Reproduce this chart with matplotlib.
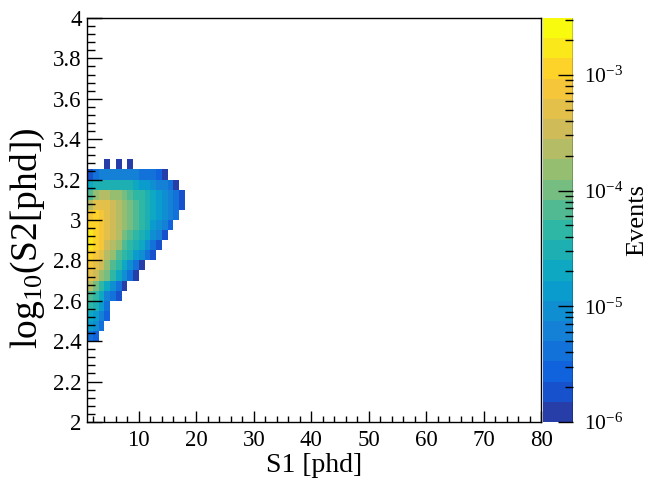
import numpy as np
import matplotlib.pyplot as plt
from matplotlib.colors import LinearSegmentedColormap, ListedColormap, LogNorm
from matplotlib.ticker import MultipleLocator, FuncFormatter, LogLocator

plt.rcParams['font.family'] = ['Liberation Serif', 'DejaVu Serif']
plt.rcParams['mathtext.fontset'] = 'custom'
plt.rcParams['mathtext.rm'] = 'Liberation Serif'
plt.rcParams['mathtext.it'] = 'Liberation Serif:italic'
plt.rcParams['mathtext.bf'] = 'Liberation Serif:bold'

# binning: S1 in 1 phd bins, log10(S2) in 0.05 bins
s1_edges = np.arange(1, 81, 1)
logs2_edges = np.round(np.arange(2.0, 4.0001, 0.05), 2)

# lower log10(S2) edge of each filled row, top row first
row_low = [3.25, 3.20, 3.15, 3.10, 3.05, 3.00, 2.95, 2.90, 2.85,
           2.80, 2.75, 2.70, 2.65, 2.60, 2.55, 2.50, 2.45, 2.40]

# events in each S1 bin of a row, starting from S1 = 1 phd
row_events = [
    [0, 0, 0, 1.2e-6, 0, 1.3e-6, 0, 1.2e-6],
    [1.8e-6, 4.2e-6, 5.8e-6, 6.2e-6, 6.4e-6, 6.3e-6, 6.1e-6, 5.9e-6, 5.4e-6,
     4.3e-6, 4.0e-6, 3.6e-6, 2.7e-6, 1.2e-6],
    [2.1e-5, 3.0e-5, 3.2e-5, 3.1e-5, 3.0e-5, 2.9e-5, 2.8e-5, 2.6e-5, 2.1e-5,
     1.5e-5, 1.3e-5, 9.5e-6, 6.6e-6, 5.8e-6, 4.2e-6, 1.3e-6],
    [7.0e-5, 1.6e-4, 2.3e-4, 2.2e-4, 1.6e-4, 1.4e-4, 1.0e-4, 7.0e-5, 4.8e-5,
     4.3e-5, 3.0e-5, 2.0e-5, 1.4e-5, 9.0e-6, 6.0e-6, 4.1e-6, 1.8e-6],
    [2.4e-4, 5.0e-4, 5.4e-4, 4.8e-4, 3.5e-4, 2.3e-4, 1.5e-4, 1.0e-4, 6.8e-5,
     4.5e-5, 3.0e-5, 2.0e-5, 1.4e-5, 9.0e-6, 6.0e-6, 4.1e-6, 1.9e-6],
    [7.5e-4, 1.0e-3, 8.0e-4, 5.2e-4, 3.6e-4, 2.3e-4, 1.5e-4, 1.0e-4, 6.8e-5,
     4.5e-5, 3.0e-5, 2.0e-5, 1.4e-5, 9.0e-6, 6.0e-6, 4.0e-6],
    [1.2e-3, 1.1e-3, 7.8e-4, 5.2e-4, 3.5e-4, 2.3e-4, 1.5e-4, 1.0e-4, 6.8e-5,
     4.5e-5, 3.0e-5, 1.4e-5, 9.0e-6, 6.0e-6, 2.7e-6],
    [1.5e-3, 1.2e-3, 8.0e-4, 5.2e-4, 3.5e-4, 2.3e-4, 1.0e-4, 6.8e-5, 4.5e-5,
     3.0e-5, 2.0e-5, 9.0e-6, 6.0e-6, 1.8e-6],
    [1.5e-3, 1.15e-3, 7.6e-4, 3.5e-4, 2.3e-4, 1.5e-4, 6.8e-5, 4.5e-5, 3.0e-5,
     2.0e-5, 9.0e-6, 4.1e-6, 1.8e-6],
    [1.1e-3, 7.6e-4, 5.1e-4, 2.3e-4, 1.5e-4, 6.8e-5, 4.5e-5, 3.0e-5, 1.4e-5,
     9.0e-6, 4.1e-6, 1.8e-6],
    [7.6e-4, 5.1e-4, 3.4e-4, 1.5e-4, 6.8e-5, 4.5e-5, 2.0e-5, 9.0e-6, 4.1e-6,
     1.2e-6],
    [5.1e-4, 3.4e-4, 1.5e-4, 1.0e-4, 4.5e-5, 2.0e-5, 9.0e-6, 4.1e-6, 1.2e-6],
    [2.1e-4, 1.0e-4, 4.5e-5, 2.0e-5, 9.0e-6, 4.1e-6, 1.2e-6],
    [6.8e-5, 4.5e-5, 2.0e-5, 6.1e-6, 4.1e-6, 1.8e-6],
    [4.5e-5, 3.0e-5, 1.4e-5, 4.1e-6],
    [2.0e-5, 1.4e-5, 6.1e-6, 2.7e-6],
    [1.4e-5, 9.1e-6, 4.1e-6],
    [4.1e-6, 2.7e-6],
]

z_min, z_max = 1e-6, 3.1e-3
n_levels = 20

hist = np.zeros((len(logs2_edges) - 1, len(s1_edges) - 1))
for low, vals in zip(row_low, row_events):
    j = int(round((low - logs2_edges[0]) / 0.05))
    hist[j, :len(vals)] = vals
hist = np.ma.masked_less_equal(hist, 0)

# ROOT kBird palette, cut into the 20 contour levels
stops = [0.0, 0.125, 0.25, 0.375, 0.5, 0.625, 0.75, 0.875, 1.0]
red = [0.2082, 0.0592, 0.0780, 0.0232, 0.1802, 0.5301, 0.8186, 0.9956, 0.9764]
green = [0.1664, 0.3599, 0.5041, 0.6419, 0.7178, 0.7492, 0.7328, 0.7862, 0.9832]
blue = [0.5293, 0.8684, 0.8385, 0.7914, 0.6425, 0.4662, 0.3499, 0.1968, 0.0539]
bird = LinearSegmentedColormap.from_list('bird', list(zip(stops, zip(red, green, blue))))
cmap = ListedColormap([bird((i + 0.99) / n_levels) for i in range(n_levels)])

fig = plt.figure(figsize=(6.6, 4.8), dpi=100)
ax = fig.add_axes([0.132, 0.121, 0.688, 0.8415])
mesh = ax.pcolormesh(s1_edges, logs2_edges, hist, cmap=cmap,
                     norm=LogNorm(vmin=z_min, vmax=z_max))

ax.set_xlim(1, 80)
ax.set_ylim(2, 4)
ax.xaxis.set_major_locator(MultipleLocator(10))
ax.xaxis.set_minor_locator(MultipleLocator(2))
ax.yaxis.set_major_locator(MultipleLocator(0.2))
ax.yaxis.set_minor_locator(MultipleLocator(0.04))
ax.yaxis.set_major_formatter(FuncFormatter(lambda v, p: f'{v:g}'))
ax.tick_params(which='both', direction='in', top=False, right=False,
               labelsize=16.5, width=1)
ax.tick_params(axis='x', which='major', length=8, pad=6)
ax.tick_params(axis='x', which='minor', length=4)
ax.tick_params(axis='y', which='major', length=11, pad=4)
ax.tick_params(axis='y', which='minor', length=5.5)
for s in ax.spines.values():
    s.set_linewidth(1)

ax.set_xlabel('S1 [phd]', fontsize=20)
ax.set_ylabel(r'log$_{10}$(S2[phd])', fontsize=27)
ax.xaxis.set_label_coords(0.5, -0.076)
ax.yaxis.set_label_coords(-0.088, 0.455)

cax = fig.add_axes([0.823, 0.121, 0.045, 0.8415])
cb = fig.colorbar(mesh, cax=cax)
cb.outline.set_visible(False)
cax.axvline(1, color='black', lw=1)
cax.yaxis.set_major_locator(LogLocator(base=10))
cax.yaxis.set_minor_locator(LogLocator(base=10, subs=np.arange(2, 10)))
cax.tick_params(which='both', direction='in', right=True, left=False,
                labelsize=15.5, width=1)
cax.tick_params(which='major', length=11, pad=8)
cax.tick_params(which='minor', length=6)
cb.set_label('Events', fontsize=19)
cax.yaxis.set_label_coords(2.8, 0.5)

plt.savefig('out.png', dpi=100)
